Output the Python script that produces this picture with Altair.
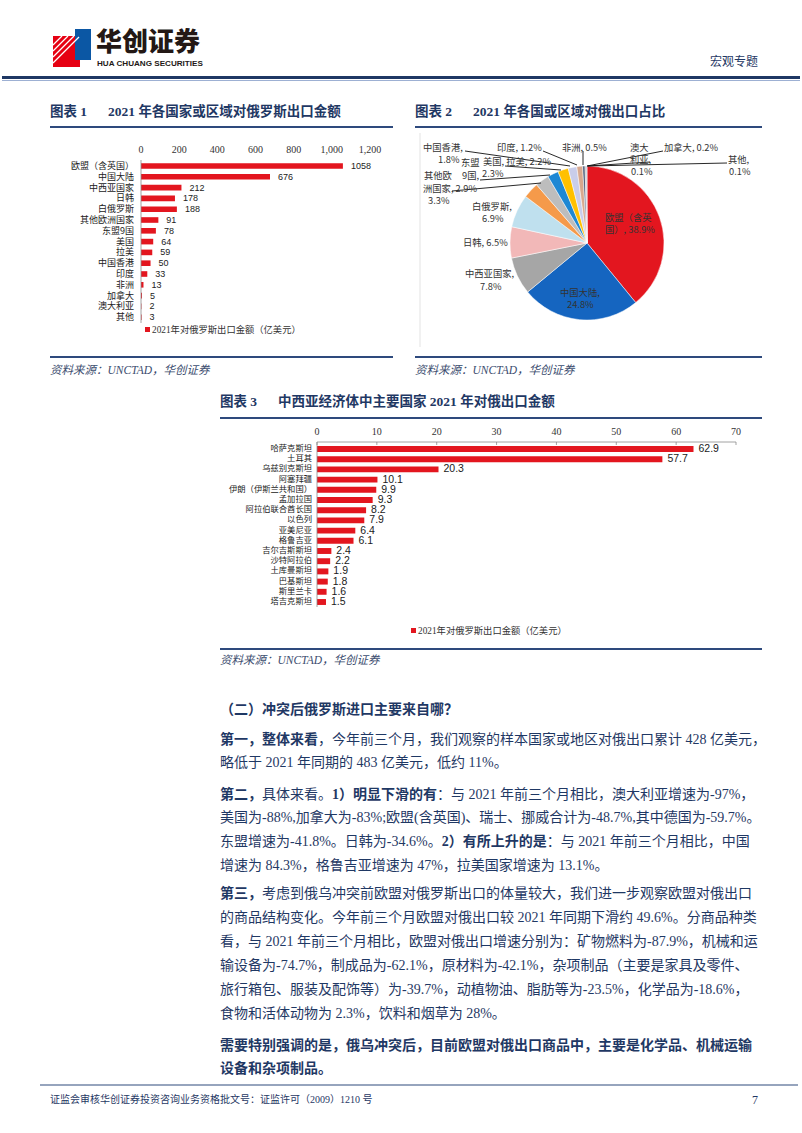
import altair as alt
import pandas as pd

# ---------------- chart data ----------------
c1_cats = ["欧盟（含英国）", "中国大陆", "中西亚国家", "日韩", "白俄罗斯", "其他欧洲国家",
           "东盟9国", "美国", "拉美", "中国香港", "印度", "非洲", "加拿大", "澳大利亚", "其他"]
c1_vals = [1058, 676, 212, 178, 188, 91, 78, 64, 59, 50, 33, 13, 5, 2, 3]
c1_ticks = [0, 200, 400, 600, 800, 1000, 1200]
legend_text = "2021年对俄罗斯出口金额（亿美元）"

pie_cats = ["欧盟（含英国）", "中国大陆", "中西亚国家", "日韩", "白俄罗斯", "其他欧洲国家",
            "东盟9国", "美国", "拉美", "中国香港", "印度", "非洲", "加拿大", "澳大利亚", "其他"]
pie_pcts = [38.9, 24.8, 7.8, 6.5, 6.9, 3.3, 2.9, 2.3, 2.2, 1.8, 1.2, 0.5, 0.2, 0.1, 0.1]
pie_colors = ["#E3161F", "#1565C0", "#A6A6A6", "#F2B8B8", "#BFE0EE", "#F59A4A",
              "#BDBDBD", "#1E88D4", "#FFC000", "#C9CDEA", "#D8A88E", "#4A5A78",
              "#8C8C8C", "#A9D18E", "#2F5597"]
pie_label_texts = ["欧盟（含英", "国）, 38.9%", "中国大陆,", "24.8%", "中西亚国家,", "7.8%",
                   "日韩, 6.5%", "白俄罗斯,", "6.9%", "其他欧", "洲国家, 2.9%", "3.3%",
                   "东盟", "9国,", "美国, 拉美, 2.2%", "2.3%", "中国香港,", "1.8%",
                   "印度, 1.2%", "非洲, 0.5%", "澳大", "利亚,", "0.1%", "加拿大, 0.2%",
                   "其他,", "0.1%"]

c3_cats = ["哈萨克斯坦", "土耳其", "乌兹别克斯坦", "阿塞拜疆", "伊朗（伊斯兰共和国）", "孟加拉国",
           "阿拉伯联合酋长国", "以色列", "亚美尼亚", "格鲁吉亚", "吉尔吉斯斯坦", "沙特阿拉伯",
           "土库曼斯坦", "巴基斯坦", "斯里兰卡", "塔吉克斯坦"]
c3_vals = [62.9, 57.7, 20.3, 10.1, 9.9, 9.3, 8.2, 7.9, 6.4, 6.1, 2.4, 2.2, 1.9, 1.8, 1.6, 1.5]
c3_ticks = [0, 10, 20, 30, 40, 50, 60, 70]

# ---------------- page text ----------------
body_lines = [
    [("（二）冲突后俄罗斯进口主要来自哪？", True)],
    [("第一，整体来看", True), ("，今年前三个月，我们观察的样本国家或地区对俄出口累计 428 亿美元，", False)],
    [("略低于 2021 年同期的 483 亿美元，低约 11%。", False)],
    [("第二，", True), ("具体来看。", False), ("1）明显下滑的有", True),
     ("：与 2021 年前三个月相比，澳大利亚增速为-97%，", False)],
    [("美国为-88%,加拿大为-83%;欧盟(含英国)、瑞士、挪威合计为-48.7%,其中德国为-59.7%。", False)],
    [("东盟增速为-41.8%。日韩为-34.6%。", False), ("2）有所上升的是", True),
     ("：与 2021 年前三个月相比，中国", False)],
    [("增速为 84.3%，格鲁吉亚增速为 47%，拉美国家增速为 13.1%。", False)],
    [("第三，", True), ("考虑到俄乌冲突前欧盟对俄罗斯出口的体量较大，我们进一步观察欧盟对俄出口", False)],
    [("的商品结构变化。今年前三个月欧盟对俄出口较 2021 年同期下滑约 49.6%。分商品种类", False)],
    [("看，与 2021 年前三个月相比，欧盟对俄出口增速分别为：矿物燃料为-87.9%，机械和运", False)],
    [("输设备为-74.7%，制成品为-62.1%，原材料为-42.1%，杂项制品（主要是家具及零件、", False)],
    [("旅行箱包、服装及配饰等）为-39.7%，动植物油、脂肪等为-23.5%，化学品为-18.6%，", False)],
    [("食物和活体动物为 2.3%，饮料和烟草为 28%。", False)],
    [("需要特别强调的是，俄乌冲突后，目前欧盟对俄出口商品中，主要是化学品、机械运输", True)],
    [("设备和杂项制品。", True)],
]

# ---------------- layout (pixels) ----------------
W, H = 802, 1133
NAVY = "#1F3864"
RED = "#E3161F"
SANS = "Noto Sans CJK SC"
SERIF = "Liberation Serif, Noto Sans CJK SC"
FS = 14
body_y = [710, 740, 763, 795, 818, 842, 866, 894, 918, 942, 966, 990, 1014, 1046, 1069]
pie_label_pos = [(605, 218), (605, 230), (560, 293), (567, 305), (465, 274), (480, 287),
                 (463, 243), (472, 207), (482, 219), (424, 176), (423, 189), (428, 201),
                 (461, 163), (462, 176), (483, 162), (482, 174), (423, 148), (438, 160),
                 (497, 148), (562, 148), (630, 148), (630, 160), (631, 172), (664, 148),
                 (728, 160), (729, 172)]
PIE_CX, PIE_CY, PIE_R = 587, 243, 77


def em_width(s):
    w = 0.0
    for ch in s:
        if ord(ch) > 0x2E80:
            w += 1.0
        elif ch.isdigit():
            w += 0.5
        elif ch in " .,:;":
            w += 0.25
        elif ch in "-()":
            w += 0.333
        elif ch == "%":
            w += 0.833
        else:
            w += 0.5
    return w


def texts(rows, size, color, font, weight="normal", style="normal", align="left"):
    df = pd.DataFrame(rows, columns=["px", "py", "t"])
    return alt.Chart(df).mark_text(
        fontSize=size, color=color, font=font, fontWeight=weight, fontStyle=style,
        align=align, baseline="middle"
    ).encode(
        x=alt.X("px:Q", scale=None, axis=None),
        y=alt.Y("py:Q", scale=None, axis=None),
        text="t:N",
    )


def rules(rows, color, width):
    df = pd.DataFrame(rows, columns=["xa", "ya", "xb", "yb"])
    return alt.Chart(df).mark_rule(color=color, strokeWidth=width).encode(
        x=alt.X("xa:Q", scale=None, axis=None), y=alt.Y("ya:Q", scale=None, axis=None),
        x2="xb:Q", y2="yb:Q",
    )


def rects(rows, color):
    df = pd.DataFrame(rows, columns=["xa", "ya", "xb", "yb"])
    return alt.Chart(df).mark_rect(color=color).encode(
        x=alt.X("xa:Q", scale=None, axis=None), y=alt.Y("ya:Q", scale=None, axis=None),
        x2="xb:Q", y2="yb:Q",
    )


# ---------------- chart 1: horizontal bars ----------------
df1 = pd.DataFrame({"c1": c1_cats, "v1": c1_vals})
x1 = alt.Scale(domain=[0, 1200], range=[141, 370], nice=False)
y1 = alt.Scale(domain=c1_cats, range=[160.6, 322.6], paddingInner=0.48, paddingOuter=0.24)
X1 = alt.X("v1:Q", scale=x1, axis=None)
Y1 = alt.Y("c1:N", scale=y1, axis=None, sort=None)
b1 = alt.Chart(df1)
chart1 = alt.layer(
    b1.mark_bar(color=RED).encode(x=X1, y=Y1),
    b1.mark_text(align="left", dx=8, fontSize=9, font="Liberation Sans", color="#222").encode(
        x=X1, y=Y1, text=alt.Text("v1:Q", format="d")),
    b1.mark_text(align="right", fontSize=9, font=SANS, color="#222").encode(
        x=alt.value(134), y=Y1, text="c1:N"),
    alt.Chart(pd.DataFrame({"v1": c1_ticks})).mark_text(
        fontSize=10, font="Liberation Serif", color="#333").encode(
        x=X1, y=alt.value(150), text=alt.Text("v1:Q", format=",")),
    alt.Chart(pd.DataFrame({"v1": [0]})).mark_rule(color="#8c8c8c", strokeWidth=0.8).encode(
        x=X1, y=alt.value(160), y2=alt.value(323)),
)

# ---------------- chart 3: horizontal bars ----------------
df3 = pd.DataFrame({"c3": c3_cats, "v3": c3_vals})
x3 = alt.Scale(domain=[0, 70], range=[317, 736], nice=False)
y3 = alt.Scale(domain=c3_cats, range=[443.9, 607.1], paddingInner=0.42, paddingOuter=0.21)
X3 = alt.X("v3:Q", scale=x3, axis=None)
Y3 = alt.Y("c3:N", scale=y3, axis=None, sort=None)
b3 = alt.Chart(df3)
tk3 = alt.Chart(pd.DataFrame({"v3": c3_ticks}))
chart3 = alt.layer(
    b3.mark_bar(color=RED).encode(x=X3, y=Y3),
    b3.mark_text(align="left", dx=5, fontSize=10.5, font="Liberation Sans", color="#1a1a1a").encode(
        x=X3, y=Y3, text=alt.Text("v3:Q", format=".1f")),
    b3.mark_text(align="right", fontSize=8.3, font=SANS, color="#222").encode(
        x=alt.value(312), y=Y3, text="c3:N"),
    tk3.mark_text(fontSize=10, font="Liberation Serif", color="#333").encode(
        x=X3, y=alt.value(432), text=alt.Text("v3:Q", format="d")),
    tk3.mark_rule(color="#8c8c8c", strokeWidth=0.8).encode(
        x=X3, y=alt.value(442), y2=alt.value(445)),
    alt.Chart(pd.DataFrame({"v3": [0], "e3": [70]})).mark_rule(color="#8c8c8c", strokeWidth=0.8).encode(
        x=X3, x2="e3:Q", y=alt.value(442)),
    alt.Chart(pd.DataFrame({"v3": [0]})).mark_rule(color="#8c8c8c", strokeWidth=0.8).encode(
        x=X3, y=alt.value(442), y2=alt.value(607)),
)

# ---------------- chart 2: pie ----------------
dfp = pd.DataFrame({"cat": pie_cats, "pct": pie_pcts, "idx": list(range(len(pie_cats)))})
pie = alt.Chart(dfp).mark_arc(radius=PIE_R, stroke="white", strokeWidth=0.5).encode(
    theta=alt.Theta("pct:Q", stack=True),
    color=alt.Color("cat:N", scale=alt.Scale(domain=pie_cats, range=pie_colors), legend=None),
    order=alt.Order("idx:Q", sort="ascending"),
    x=alt.value(PIE_CX), y=alt.value(PIE_CY),
)
pie_labels = texts([(p[0], p[1], t) for p, t in zip(pie_label_pos, pie_label_texts)],
                   9.3, "#333333", SANS)
leaders = rules([(465, 151, 570, 166), (543, 151, 577, 165), (583, 151, 583, 165),
                 (663, 151, 587, 166), (650, 162, 587, 166), (727, 163, 588, 166),
                 (505, 166, 561, 170), (480, 180, 550, 175), (452, 191, 541, 183)],
                "#111111", 0.9)

# ---------------- body text ----------------
bold_rows, reg_rows = [], []
for y, segs in zip(body_y, body_lines):
    x = 220.0
    for t, b in segs:
        (bold_rows if b else reg_rows).append((x, y, t))
        x += em_width(t) * FS

layers = [
    # header
    rects([(53, 36, 80, 67)], "#E60012"),
    rects([(75, 29, 91, 60)], "#0B57A4"),
    rules([(53, 45, 62, 36), (53, 51, 68, 36), (53, 57, 74, 36), (53, 63, 79, 37)], "white", 1.2),
    texts([(96, 43, "华创证券")], 26, "#231815", SANS, weight=900),
    texts([(97, 64, "HUA CHUANG SECURITIES")], 8.1, "#231815", "Liberation Sans", weight="bold"),
    texts([(758, 62, "宏观专题")], 12, NAVY, SANS, align="right"),
    rects([(2, 76, 800, 79)], NAVY),
    rules([(2, 80.5, 800, 80.5)], "#9DB0D3", 1),
    # titles
    texts([(50, 112, "图表 1"), (108, 112, "2021 年各国家或区域对俄罗斯出口金额"),
           (415, 112, "图表 2"), (473, 112, "2021 年各国或区域对俄出口占比"),
           (220, 402, "图表 3"), (278, 402, "中西亚经济体中主要国家 2021 年对俄出口金额")],
          13.5, NAVY, SERIF, weight="bold"),
    rules([(50, 127, 393, 127), (415, 127, 762, 127), (50, 357, 393, 357), (415, 357, 762, 357),
           (220, 418, 762, 418), (220, 649, 762, 649)], "#2E4A7D", 1.8),
    rules([(420, 133, 420, 347)], "#E3E3E3", 1),
    texts([(50, 371, "资料来源：UNCTAD，华创证券"), (415, 371, "资料来源：UNCTAD，华创证券"),
           (220, 661, "资料来源：UNCTAD，华创证券")], 11.5, "#3B4C6E", SERIF, style="italic"),
    # legends
    rects([(145, 327, 150, 332), (411, 628, 416, 633)], RED),
    texts([(152, 330, legend_text), (418, 631, legend_text)], 9.3, "#333333", SERIF),
    chart1, chart3, pie, leaders, pie_labels,
    texts(reg_rows, FS, NAVY, SERIF),
    texts(bold_rows, FS, NAVY, SERIF, weight="bold"),
    # footer
    rules([(40, 1085, 798, 1085)], "#2E4A7D", 1.2),
    texts([(50, 1100, "证监会审核华创证券投资咨询业务资格批文号：证监许可（2009）1210 号")],
          10, NAVY, SERIF),
    texts([(758, 1100, "7")], 12, NAVY, SERIF, align="right"),
]

chart = alt.layer(*layers).resolve_scale(
    x="independent", y="independent"
).properties(
    width=W, height=H, autosize=alt.AutoSizeParams(type="none"), padding=0, background="white"
).configure_view(stroke=None)

chart.save("out.html", embed_options={"renderer": "svg", "actions": False})
